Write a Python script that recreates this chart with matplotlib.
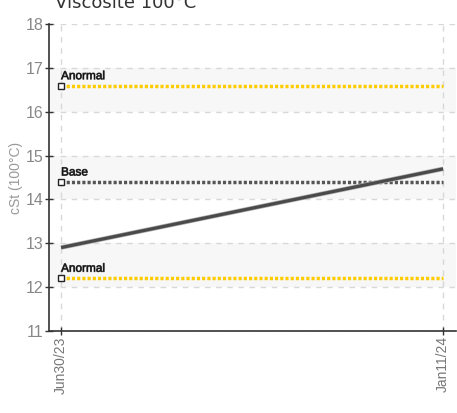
import datetime
import matplotlib
matplotlib.use("Agg")
import matplotlib.pyplot as plt
import matplotlib.dates as mdates
import matplotlib.patheffects as pe

# data
dates = [datetime.date(2023, 6, 30), datetime.date(2024, 1, 11)]
date_labels = ["Jun30/23", "Jan11/24"]
viscosity = [12.9, 14.7]
base_value = 14.4
upper_anormal = 16.6
lower_anormal = 12.2
y_ticks = [11, 12, 13, 14, 15, 16, 17, 18]

narrow = ["Liberation Sans", "DejaVu Sans"]

fig = plt.figure(figsize=(4.57, 4.13), dpi=100)
ax = fig.add_axes([0.107, 0.1993, 0.891, 0.7414])

# alternating bands
for lo in range(12, 18, 2):
    ax.axhspan(lo, lo + 1, color="#f7f7f7", zorder=0, lw=0)

for y in y_ticks:
    ax.axhline(y, color="#d8d8d8", lw=1, ls=(0, (4, 4)), zorder=1)
for d in dates:
    ax.axvline(d, color="#d8d8d8", lw=1, ls=(0, (4, 4)), zorder=1)

# reference lines
refs = [(upper_anormal, "#ffcc00", "Anormal"),
        (base_value, "#555555", "Base"),
        (lower_anormal, "#ffcc00", "Anormal")]
for val, col, name in refs:
    ax.plot(dates, [val, val], color=col, lw=2.5, ls=(0, (0.9, 0.6)), zorder=3)
    ax.plot(dates[0], val, marker="s", ms=4, mfc="white", mec="#222222", mew=1, zorder=5)
    ax.annotate(name, (mdates.date2num(dates[0]), val), xytext=(0, 2.5), textcoords="offset points",
                fontsize=8.5, family=narrow, color="#111111", va="bottom", ha="left", zorder=6,
                path_effects=[pe.withStroke(linewidth=0.6, foreground="#555555")])

# main series
ax.plot(dates, viscosity, color="#4a4a4a", lw=2.3, zorder=4, solid_capstyle="butt",
        path_effects=[pe.Stroke(linewidth=3.3, foreground="#b0b0b0"), pe.Normal()])

ax.set_ylim(11, 18)
ax.set_xlim(mdates.date2num(dates[0]) - 6.2, mdates.date2num(dates[1]) + 6.6)
ax.set_yticks(y_ticks)
ax.set_xticks([mdates.date2num(d) for d in dates])
ax.set_xticklabels(date_labels, rotation=90, family=narrow, fontsize=10, color="#777777")
for lab in ax.get_yticklabels():
    lab.set_family(narrow)
    lab.set_fontsize(11.5)
    lab.set_color("#888888")

ax.tick_params(axis="both", direction="inout", length=6, width=1, color="#333333", pad=1)
for s in ["top", "right"]:
    ax.spines[s].set_visible(False)
for s in ["left", "bottom"]:
    ax.spines[s].set_color("#333333")
    ax.spines[s].set_linewidth(1.2)

ax.set_ylabel("cSt (100°C)", family=narrow, fontsize=10, color="#999999", labelpad=2)

fig.text(55 / 457, 1 - 8 / 413, "Viscosite 100°C", fontsize=13, color="#333333",
         va="baseline", ha="left")

fig.savefig("out.png", dpi=100)
